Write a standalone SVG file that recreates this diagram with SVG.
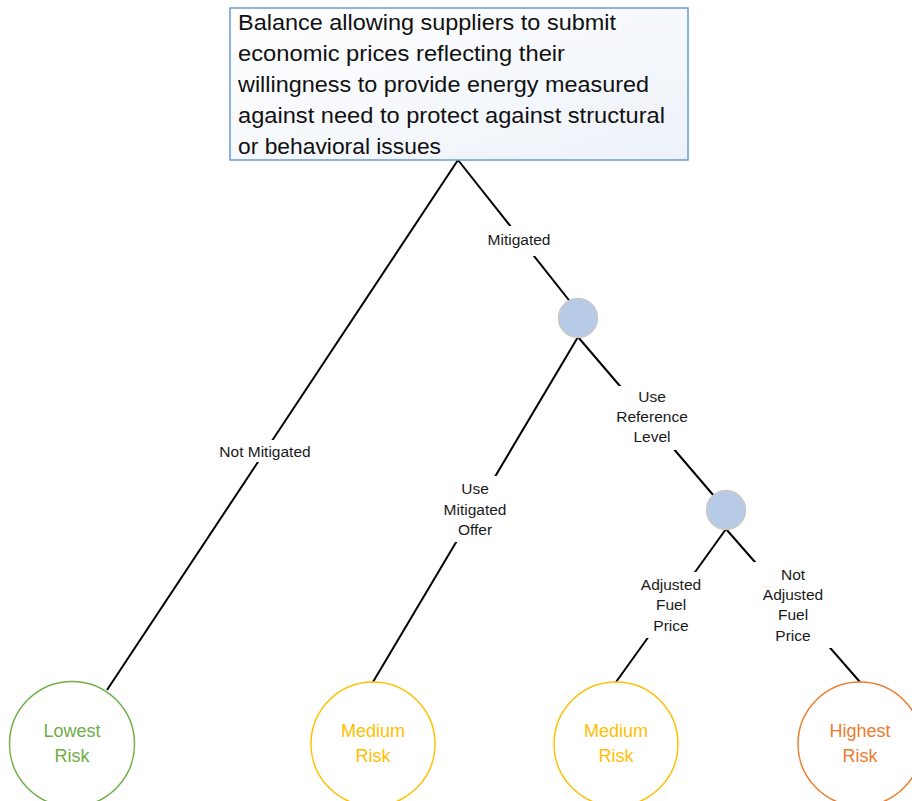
<svg xmlns="http://www.w3.org/2000/svg" width="912" height="801" viewBox="0 0 912 801">
<defs>
<linearGradient id="boxg" x1="0" y1="0" x2="1" y2="1">
<stop offset="0" stop-color="#ffffff"/>
<stop offset="1" stop-color="#edf2f9"/>
</linearGradient>
<style>
.edge{stroke:#000;stroke-width:2;fill:none}
.lbl{font-family:"Liberation Sans",Arial,sans-serif;font-size:15.5px;fill:#1a1a1a;text-anchor:middle}
.lblbg{fill:#fff}
.dot{fill:#b7cbe6;stroke:#c9c9c9;stroke-width:1.5}
.leaf{fill:#fff;stroke-width:1.5}
.leaftxt{font-family:"Liberation Sans",Arial,sans-serif;font-size:18px;text-anchor:middle}
.box{font-family:"Liberation Sans",Arial,sans-serif;font-size:22px;fill:#111}
</style>
</defs>
<rect width="912" height="801" fill="#fff"/>
<g id="connectors">
<line class="edge" x1="458" y1="160" x2="107" y2="690"/>
<line class="edge" x1="458" y1="160" x2="572" y2="304"/>
<line class="edge" x1="578" y1="337" x2="373" y2="682"/>
<line class="edge" x1="578" y1="337" x2="714" y2="496"/>
<line class="edge" x1="726" y1="529" x2="616" y2="682"/>
<line class="edge" x1="726" y1="529" x2="860" y2="682"/>
</g>
<g id="edge-labels">
<rect class="lblbg" x="214" y="440" width="102" height="22"/>
<text class="lbl" x="265" y="457">Not Mitigated</text>
<rect class="lblbg" x="482" y="226" width="74" height="30"/>
<text class="lbl" x="519" y="245">Mitigated</text>
<rect class="lblbg" x="438" y="476" width="76" height="66"/>
<text class="lbl" x="475" y="494">Use</text>
<text class="lbl" x="475" y="515">Mitigated</text>
<text class="lbl" x="475" y="535">Offer</text>
<rect class="lblbg" x="612" y="386" width="80" height="64"/>
<text class="lbl" x="652" y="402">Use</text>
<text class="lbl" x="652" y="422">Reference</text>
<text class="lbl" x="652" y="442">Level</text>
<rect class="lblbg" x="634" y="572" width="76" height="66"/>
<text class="lbl" x="671" y="590">Adjusted</text>
<text class="lbl" x="671" y="610">Fuel</text>
<text class="lbl" x="671" y="631">Price</text>
<rect class="lblbg" x="754" y="562" width="78" height="86"/>
<text class="lbl" x="793" y="580">Not</text>
<text class="lbl" x="793" y="600">Adjusted</text>
<text class="lbl" x="793" y="620">Fuel</text>
<text class="lbl" x="793" y="641">Price</text>
</g>
<g id="root">
<rect x="230" y="8" width="458" height="152" fill="url(#boxg)" stroke="#6b9bd2" stroke-width="1.5"/>
<text class="box" x="238" y="30" textLength="378" lengthAdjust="spacingAndGlyphs">Balance allowing suppliers to submit</text>
<text class="box" x="238" y="61" textLength="327" lengthAdjust="spacingAndGlyphs">economic prices reflecting their</text>
<text class="box" x="238" y="92" textLength="411" lengthAdjust="spacingAndGlyphs">willingness to provide energy measured</text>
<text class="box" x="238" y="123" textLength="427" lengthAdjust="spacingAndGlyphs">against need to protect against structural</text>
<text class="box" x="238" y="154" textLength="203" lengthAdjust="spacingAndGlyphs">or behavioral issues</text>
</g>
<g id="decision1"><circle class="dot" cx="578" cy="318" r="19.5"/></g>
<g id="decision2"><circle class="dot" cx="726" cy="510" r="19.5"/></g>
<g id="leaf-lowest">
<circle class="leaf" cx="72" cy="744" r="62.5" stroke="#70ad47"/>
<text class="leaftxt" x="72" y="737" fill="#70ad47">Lowest</text>
<text class="leaftxt" x="72" y="762" fill="#70ad47">Risk</text>
</g>
<g id="leaf-medium1">
<circle class="leaf" cx="373" cy="744" r="62" stroke="#ffc000"/>
<text class="leaftxt" x="373" y="737" fill="#ffc000">Medium</text>
<text class="leaftxt" x="373" y="762" fill="#ffc000">Risk</text>
</g>
<g id="leaf-medium2">
<circle class="leaf" cx="616" cy="744" r="62" stroke="#ffc000"/>
<text class="leaftxt" x="616" y="737" fill="#ffc000">Medium</text>
<text class="leaftxt" x="616" y="762" fill="#ffc000">Risk</text>
</g>
<g id="leaf-highest">
<circle class="leaf" cx="860" cy="744" r="62" stroke="#ed7d31"/>
<text class="leaftxt" x="860" y="737" fill="#ed7d31">Highest</text>
<text class="leaftxt" x="860" y="762" fill="#ed7d31">Risk</text>
</g>
</svg>
